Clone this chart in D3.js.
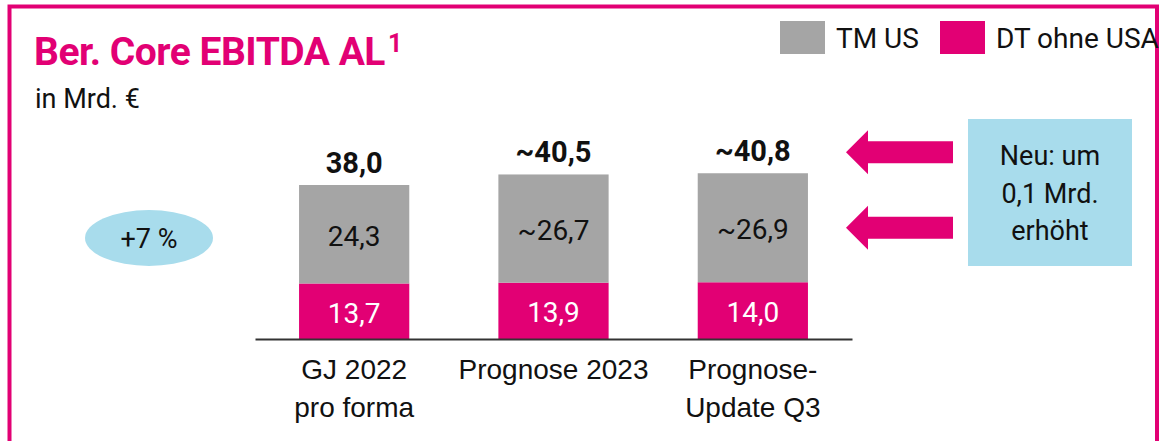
<!DOCTYPE html>
<html>
<head>
<meta charset="utf-8">
<script src="https://cdn.jsdelivr.net/npm/d3@7"></script>
<style>
  html, body { margin: 0; padding: 0; background: #fff; }
  svg { display: block; font-family: Roboto, 'Noto Sans', sans-serif; }
</style>
</head>
<body>
<svg id="chart"></svg>
<script>
// ---------- data ----------
const categories = [['GJ 2022', 'pro forma'], ['Prognose 2023'], ['Prognose-', 'Update Q3']];
const tmUS = [24.3, 26.7, 26.9];
const dtOhneUSA = [13.7, 13.9, 14.0];
const tmUSLabels = ['24,3', '~26,7', '~26,9'];
const dtLabels = ['13,7', '13,9', '14,0'];
const totalLabels = ['38,0', '~40,5', '~40,8'];
const seriesNames = ['TM US', 'DT ohne USA'];
const growthLabel = '+7 %';
const noteLines = ['Neu: um', '0,1 Mrd.', 'erhöht'];

const magenta = '#e20074',
      grey = '#a5a5a5',
      lightBlue = '#a8dcec';

const width = 1160,
      height = 441;

const svg = d3.select('svg#chart')
    .attr('width', width)
    .attr('height', height);

//---------------------frame----------
svg.append('rect')
    .attr('x', 9.5)
    .attr('y', 6.5)
    .attr('width', 1147.5)
    .attr('height', 460)
    .attr('fill', 'none')
    .attr('stroke', magenta)
    .attr('stroke-width', 4);

//---------------------title----------
const title = svg.append('text')
    .attr('x', 34)
    .attr('y', 65)
    .style('font-size', '39px')
    .style('font-weight', 700)
    .attr('fill', magenta)
    .attr('letter-spacing', '-0.5px');
title.append('tspan').text('Ber. Core EBITDA AL');
title.append('tspan')
    .attr('dy', -13)
    .attr('dx', 3)
    .style('font-size', '25px')
    .text('1');

svg.append('text')
    .attr('x', 35)
    .attr('y', 108)
    .style('font-size', '27px')
    .attr('fill', '#111')
    .text('in Mrd. €');

//---------------------legend----------
const legendX = [780, 940];
seriesNames.forEach((name, i) => {
  svg.append('rect')
      .attr('x', legendX[i])
      .attr('y', 21)
      .attr('width', 45)
      .attr('height', 33)
      .attr('fill', i === 0 ? grey : magenta);
  svg.append('text')
      .attr('x', legendX[i] + 56)
      .attr('y', 48)
      .style('font-size', '28px')
      .attr('fill', '#111')
      .text(name);
});

//=======================SCALES======================================
const x = d3.scaleBand()
    .domain(d3.range(categories.length))
    .range([255, 852])
    .paddingInner(0.447)
    .paddingOuter(0.221);

const y = d3.scaleLinear()
    .domain([0, 38])
    .range([339, 185]);

//=======================BARS======================================
const bars = svg.selectAll('g.bar')
    .data(d3.range(categories.length))
    .join('g')
      .classed('bar', true)
      .attr('transform', i => 'translate(' + x(i) + ',0)');

bars.append('rect')
    .attr('y', i => y(dtOhneUSA[i]))
    .attr('width', x.bandwidth())
    .attr('height', i => y(0) - y(dtOhneUSA[i]))
    .attr('fill', magenta);

bars.append('rect')
    .attr('y', i => y(dtOhneUSA[i] + tmUS[i]))
    .attr('width', x.bandwidth())
    .attr('height', i => y(dtOhneUSA[i]) - y(dtOhneUSA[i] + tmUS[i]))
    .attr('fill', grey);

// segment labels
bars.append('text')
    .attr('x', x.bandwidth() / 2)
    .attr('y', i => (y(0) + y(dtOhneUSA[i])) / 2 + 11.5)
    .style('text-anchor', 'middle')
    .style('font-size', '28px')
    .attr('fill', '#fff')
    .text(i => dtLabels[i]);

bars.append('text')
    .attr('x', x.bandwidth() / 2)
    .attr('y', i => (y(dtOhneUSA[i]) + y(dtOhneUSA[i] + tmUS[i])) / 2 + 11.5)
    .style('text-anchor', 'middle')
    .style('font-size', '28px')
    .attr('fill', '#111')
    .text(i => tmUSLabels[i]);

// totals
bars.append('text')
    .attr('x', x.bandwidth() / 2)
    .attr('y', i => y(dtOhneUSA[i] + tmUS[i]) - 12.5)
    .style('text-anchor', 'middle')
    .style('font-size', '29px')
    .style('font-weight', 700)
    .attr('fill', '#111')
    .text(i => totalLabels[i]);

//---------------------x-axis----------
const xAxis = d3.axisBottom(x)
    .tickSize(0)
    .tickSizeOuter(0)
    .tickFormat('');

const gx = svg.append('g')
    .attr('transform', 'translate(0,' + y(0) + ')')
    .call(xAxis);
gx.select('.domain')
    .attr('stroke', '#333')
    .attr('stroke-width', 2);

gx.selectAll('.tick')
  .append('text')
    .style('font-size', '28px')
    .style('text-anchor', 'middle')
    .attr('fill', '#111')
  .selectAll('tspan')
  .data(i => categories[i])
  .join('tspan')
    .attr('x', 0)
    .attr('y', (d, j) => 40 + j * 38)
    .text(d => d);

//---------------------growth ellipse----------
svg.append('ellipse')
    .attr('cx', 149)
    .attr('cy', 238)
    .attr('rx', 64)
    .attr('ry', 28)
    .attr('fill', lightBlue);
svg.append('text')
    .attr('x', 149)
    .attr('y', 247.5)
    .style('text-anchor', 'middle')
    .style('font-size', '27px')
    .attr('fill', '#111')
    .text(growthLabel);

//---------------------arrows + note----------
const last = categories.length - 1;
const arrowY = [
  y(dtOhneUSA[last] + tmUS[last]) - 21,
  (y(dtOhneUSA[last]) + y(dtOhneUSA[last] + tmUS[last])) / 2
];
const arrow = d3.line();
arrowY.forEach(ay => {
  svg.append('path')
      .attr('d', arrow([
        [846, ay], [868, ay - 22], [868, ay - 11], [953, ay - 11],
        [953, ay + 11], [868, ay + 11], [868, ay + 22]
      ]) + 'Z')
      .attr('fill', magenta);
});

svg.append('rect')
    .attr('x', 968)
    .attr('y', 119)
    .attr('width', 164)
    .attr('height', 147)
    .attr('fill', lightBlue);
svg.append('text')
    .style('font-size', '27px')
    .style('text-anchor', 'middle')
    .attr('fill', '#111')
  .selectAll('tspan')
  .data(noteLines)
  .join('tspan')
    .attr('x', 1050)
    .attr('y', (d, j) => 165 + j * 37.5)
    .text(d => d);
</script>
</body>
</html>
